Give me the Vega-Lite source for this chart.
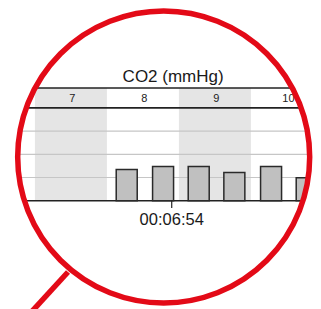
{
  "$schema": "https://vega.github.io/schema/vega-lite/v6.json",
  "width": 321,
  "height": 309,
  "autosize": {"type": "none"},
  "padding": 0,
  "background": "white",
  "view": {"stroke": null},
  "config": {"font": "Liberation Sans"},
  "datasets": {
    "bands": [
      {"start": 376, "end": 396, "mid": 386, "label": "7", "shade": true},
      {"start": 396, "end": 416, "mid": 406, "label": "8", "shade": false},
      {"start": 416, "end": 436, "mid": 426, "label": "9", "shade": true},
      {"start": 436, "end": 456, "mid": 446, "label": "10", "shade": false}
    ],
    "bars": [
      {"t": 401.5, "value": 1.35},
      {"t": 411.6, "value": 1.47},
      {"t": 421.5, "value": 1.47},
      {"t": 431.4, "value": 1.22},
      {"t": 441.6, "value": 1.47},
      {"t": 451.5, "value": 0.99}
    ],
    "grid": [{"v": 1}, {"v": 2}, {"v": 3}],
    "frame": [{"v": 0}, {"v": 4}, {"v": 4.86}],
    "ticks": [{"t": 414, "label": "00:06:54"}],
    "lens": [{"t": 411.77, "v": 1.884}],
    "handle": [{"t": 385.19, "v": -3.073, "t2": 370.44, "v2": -5.573}]
  },
  "layer": [
    {
      "data": {"name": "bands"},
      "transform": [{"filter": "datum.shade"}],
      "mark": {"type": "rect", "color": "#e5e5e5"},
      "encoding": {
        "x": {"field": "start", "type": "quantitative", "scale": {"domain": [366.3, 455.47], "nice": false, "zero": false, "padding": 0}, "axis": null},
        "x2": {"field": "end"},
        "y": {"datum": 0, "type": "quantitative", "scale": {"domain": [-4.668, 8.651], "nice": false, "zero": false, "padding": 0}, "axis": null},
        "y2": {"datum": 4.86}
      }
    },
    {
      "data": {"name": "grid"},
      "mark": {"type": "rule", "color": "#c6c6c6", "strokeWidth": 1.2},
      "encoding": {
        "y": {"field": "v", "type": "quantitative", "scale": {"domain": [-4.668, 8.651], "nice": false, "zero": false, "padding": 0}, "axis": null}
      }
    },
    {
      "data": {"name": "frame"},
      "mark": {"type": "rule", "color": "#222222", "strokeWidth": 1.6},
      "encoding": {
        "y": {"field": "v", "type": "quantitative", "scale": {"domain": [-4.668, 8.651], "nice": false, "zero": false, "padding": 0}, "axis": null}
      }
    },
    {
      "data": {"name": "bands"},
      "mark": {"type": "text", "fontSize": 11, "color": "#222222", "dx": 1.5, "baseline": "middle", "align": "center"},
      "encoding": {
        "x": {"field": "mid", "type": "quantitative", "scale": {"domain": [366.3, 455.47], "nice": false, "zero": false, "padding": 0}, "axis": null},
        "y": {"datum": 4.37, "type": "quantitative", "scale": {"domain": [-4.668, 8.651], "nice": false, "zero": false, "padding": 0}, "axis": null},
        "text": {"field": "label"}
      }
    },
    {
      "data": {"name": "bars"},
      "mark": {"type": "bar", "size": 21, "fill": "#c0c0c0", "stroke": "#2a2a2a", "strokeWidth": 1.5},
      "encoding": {
        "x": {"field": "t", "type": "quantitative", "scale": {"domain": [366.3, 455.47], "nice": false, "zero": false, "padding": 0}, "axis": null},
        "y": {"field": "value", "type": "quantitative", "scale": {"domain": [-4.668, 8.651], "nice": false, "zero": false, "padding": 0}, "axis": null},
        "y2": {"datum": 0}
      }
    },
    {
      "data": {"name": "ticks"},
      "mark": {"type": "rule", "color": "#222222", "strokeWidth": 1.2},
      "encoding": {
        "x": {"field": "t", "type": "quantitative", "scale": {"domain": [366.3, 455.47], "nice": false, "zero": false, "padding": 0}, "axis": null},
        "y": {"datum": 0, "type": "quantitative", "scale": {"domain": [-4.668, 8.651], "nice": false, "zero": false, "padding": 0}, "axis": null},
        "y2": {"datum": -0.31}
      }
    },
    {
      "data": {"name": "ticks"},
      "mark": {"type": "text", "fontSize": 16.5, "color": "#1a1a1a", "baseline": "middle", "align": "center"},
      "encoding": {
        "x": {"field": "t", "type": "quantitative", "scale": {"domain": [366.3, 455.47], "nice": false, "zero": false, "padding": 0}, "axis": null},
        "y": {"datum": -0.845, "type": "quantitative", "scale": {"domain": [-4.668, 8.651], "nice": false, "zero": false, "padding": 0}, "axis": null},
        "text": {"field": "label"}
      }
    },
    {
      "data": {"values": [{"title": "CO2 (mmHg)"}]},
      "mark": {"type": "text", "fontSize": 17, "color": "#1a1a1a", "baseline": "middle", "align": "center"},
      "encoding": {
        "x": {"datum": 414.4, "type": "quantitative", "scale": {"domain": [366.3, 455.47], "nice": false, "zero": false, "padding": 0}, "axis": null},
        "y": {"datum": 5.34, "type": "quantitative", "scale": {"domain": [-4.668, 8.651], "nice": false, "zero": false, "padding": 0}, "axis": null},
        "text": {"field": "title"}
      }
    },
    {
      "data": {"name": "lens"},
      "mark": {"type": "point", "shape": "circle", "filled": false, "size": 283024, "stroke": "white", "strokeWidth": 240, "opacity": 1},
      "encoding": {
        "x": {"field": "t", "type": "quantitative", "scale": {"domain": [366.3, 455.47], "nice": false, "zero": false, "padding": 0}, "axis": null},
        "y": {"field": "v", "type": "quantitative", "scale": {"domain": [-4.668, 8.651], "nice": false, "zero": false, "padding": 0}, "axis": null}
      }
    },
    {
      "data": {"name": "handle"},
      "mark": {"type": "rule", "color": "#e30a17", "strokeWidth": 5.5},
      "encoding": {
        "x": {"field": "t", "type": "quantitative", "scale": {"domain": [366.3, 455.47], "nice": false, "zero": false, "padding": 0}, "axis": null},
        "y": {"field": "v", "type": "quantitative", "scale": {"domain": [-4.668, 8.651], "nice": false, "zero": false, "padding": 0}, "axis": null},
        "x2": {"field": "t2"},
        "y2": {"field": "v2"}
      }
    },
    {
      "data": {"name": "lens"},
      "mark": {"type": "point", "shape": "circle", "filled": false, "size": 85264, "stroke": "#e30a17", "strokeWidth": 5.5, "opacity": 1},
      "encoding": {
        "x": {"field": "t", "type": "quantitative", "scale": {"domain": [366.3, 455.47], "nice": false, "zero": false, "padding": 0}, "axis": null},
        "y": {"field": "v", "type": "quantitative", "scale": {"domain": [-4.668, 8.651], "nice": false, "zero": false, "padding": 0}, "axis": null}
      }
    }
  ]
}
